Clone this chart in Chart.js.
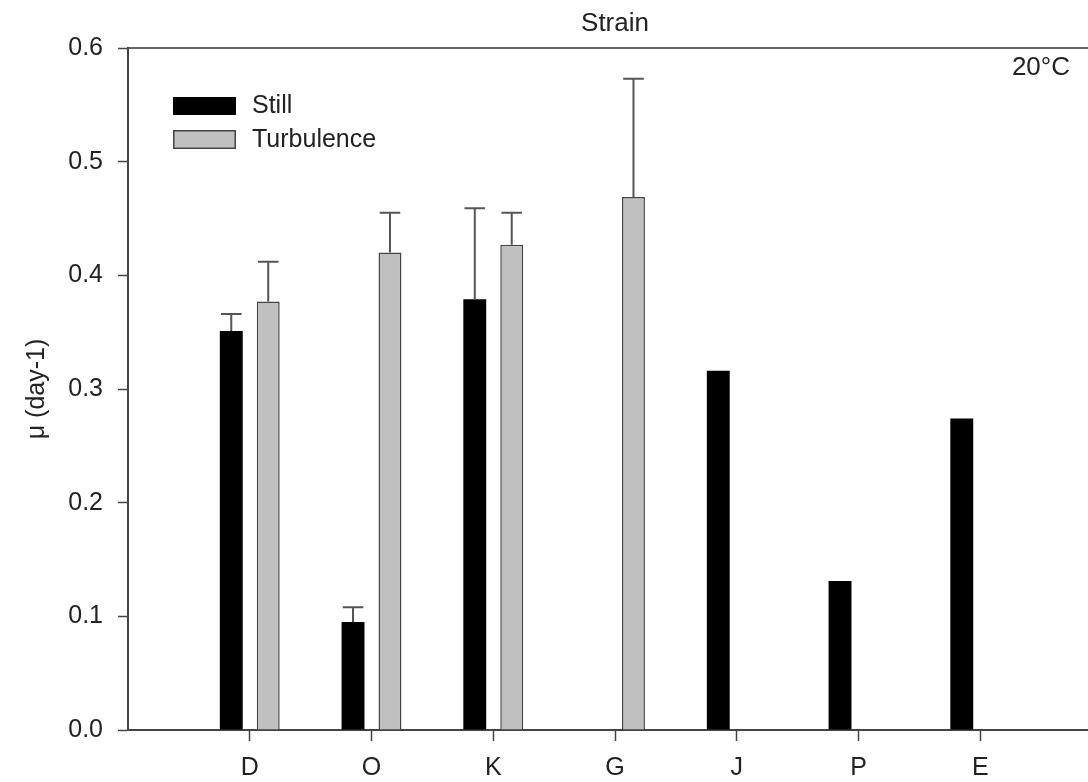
<!DOCTYPE html>
<html>
<head>
<meta charset="utf-8">
<script src="https://cdn.jsdelivr.net/npm/chart.js@4.4.0/dist/chart.umd.min.js"></script>
<style>
  html, body { margin: 0; padding: 0; background: #fff; overflow: hidden; }
  .wrap { width: 1114px; height: 782px; }
  #growth { display: block; width: 1114px; height: 782px; }
</style>
</head>
<body>
<div class="wrap"><canvas id="growth" width="1114" height="782"></canvas></div>
<script>
const categories = ['D', 'O', 'K', 'G', 'J', 'P', 'E']
const still = [0.351, 0.095, 0.379, null, 0.316, 0.131, 0.274]
const stillErr = [0.015, 0.013, 0.080, null, 0, 0, 0]
const turbulence = [0.377, 0.420, 0.427, 0.469, null, null, null]
const turbulenceErr = [0.035, 0.035, 0.028, 0.104, null, null, null]
const yTicks = [0, 0.1, 0.2, 0.3, 0.4, 0.5, 0.6]

const FONT = "'Liberation Sans', Arial, sans-serif"
const AXIS = '#444'

// bars sit at x = 1..7 on a 0..8 linear axis
const points = vals => vals.map((v, i) => ({ x: i + 1, y: v }))

// upper error bars with caps
const errorBars = {
  id: 'errorBars',
  afterDatasetsDraw(chart) {
    const { ctx } = chart
    const y = chart.scales.y
    chart.data.datasets.forEach((ds, di) => {
      const meta = chart.getDatasetMeta(di)
      meta.data.forEach((bar, i) => {
        const v = ds.data[i].y
        const e = ds.errors[i]
        if (v == null || !e) return
        const y1 = y.getPixelForValue(v + e)
        const half = bar.width * 0.45
        ctx.save()
        ctx.strokeStyle = '#555'
        ctx.lineWidth = 2
        ctx.beginPath()
        ctx.moveTo(bar.x, bar.y)
        ctx.lineTo(bar.x, y1)
        ctx.moveTo(bar.x - half, y1)
        ctx.lineTo(bar.x + half, y1)
        ctx.stroke()
        ctx.restore()
      })
    })
  }
}

// legend inside the plot plus the temperature note
const notes = {
  id: 'notes',
  afterDraw(chart) {
    const { ctx, chartArea } = chart
    const lx = chartArea.left + 45
    const ly = chartArea.top + 49
    ctx.save()
    ctx.fillStyle = '#000'
    ctx.fillRect(lx, ly, 63, 18)
    ctx.fillStyle = '#c0c0c0'
    ctx.fillRect(lx, ly + 33, 63, 19)
    ctx.strokeStyle = '#444'
    ctx.lineWidth = 1.5
    ctx.strokeRect(lx + 0.75, ly + 33.75, 61.5, 17.5)
    ctx.fillStyle = '#222'
    ctx.font = '25px ' + FONT
    ctx.textBaseline = 'middle'
    ctx.fillText('Still', lx + 79, ly + 9)
    ctx.fillText('Turbulence', lx + 79, ly + 43)
    ctx.font = '26px ' + FONT
    ctx.textAlign = 'right'
    ctx.fillText('20°C', 1070, chartArea.top + 20)
    ctx.restore()
  }
}

const xTickColor = c => (c.tick && categories[c.tick.value - 1]) ? AXIS : 'rgba(0,0,0,0)'

new Chart(document.getElementById('growth'), {
  type: 'bar',
  data: {
    datasets: [{
      label: 'Still',
      data: points(still),
      errors: stillErr,
      backgroundColor: '#000',
      borderColor: '#000',
      borderWidth: 0
    }, {
      label: 'Turbulence',
      data: points(turbulence),
      errors: turbulenceErr,
      backgroundColor: '#c0c0c0',
      borderColor: '#444',
      borderWidth: 1.5
    }]
  },
  options: {
    responsive: false,
    maintainAspectRatio: false,
    animation: false,
    devicePixelRatio: 1,
    categoryPercentage: 0.607,
    barPercentage: 0.62,
    layout: { padding: { left: 0, right: 2, top: 0, bottom: 0 } },
    plugins: {
      legend: { display: false },
      tooltip: { enabled: false }
    },
    scales: {
      x: {
        type: 'linear',
        position: 'bottom',
        offset: false,
        min: 0,
        max: 8,
        afterBuildTicks: scale => {
          scale.ticks = [0, 1, 2, 3, 4, 5, 6, 7, 8].map(v => ({ value: v }))
        },
        afterFit: scale => { scale.height = 52 },
        ticks: {
          autoSkip: false,
          maxRotation: 0,
          padding: 12,
          color: '#222',
          font: { family: FONT, size: 25 },
          callback: v => categories[v - 1] || ''
        },
        grid: {
          offset: false,
          drawOnChartArea: false,
          tickLength: 11,
          tickWidth: 1.5,
          tickColor: xTickColor
        },
        border: { color: AXIS, width: 2 }
      },
      top: {
        type: 'linear',
        position: 'top',
        offset: false,
        min: 0,
        max: 8,
        afterFit: scale => { scale.height = 48 },
        ticks: { display: false },
        grid: { offset: false, drawOnChartArea: false, drawTicks: false },
        border: { color: '#666', width: 2 },
        title: {
          display: true,
          text: 'Strain',
          color: '#222',
          font: { family: FONT, size: 26 },
          padding: { top: 8, bottom: 0 }
        }
      },
      y: {
        min: 0,
        max: 0.6,
        afterBuildTicks: scale => {
          scale.ticks = yTicks.map(v => ({ value: v }))
        },
        afterFit: scale => { scale.width = 128 },
        ticks: {
          padding: 15,
          color: '#222',
          font: { family: FONT, size: 25 },
          callback: v => v.toFixed(1)
        },
        grid: {
          drawOnChartArea: false,
          tickLength: 10,
          tickWidth: 1.5,
          tickColor: AXIS
        },
        border: { color: AXIS, width: 2 },
        title: {
          display: true,
          text: 'μ (day-1)',
          color: '#222',
          font: { family: FONT, size: 25 },
          padding: { top: 22, bottom: 0 }
        }
      }
    }
  },
  plugins: [errorBars, notes]
})
</script>
</body>
</html>
